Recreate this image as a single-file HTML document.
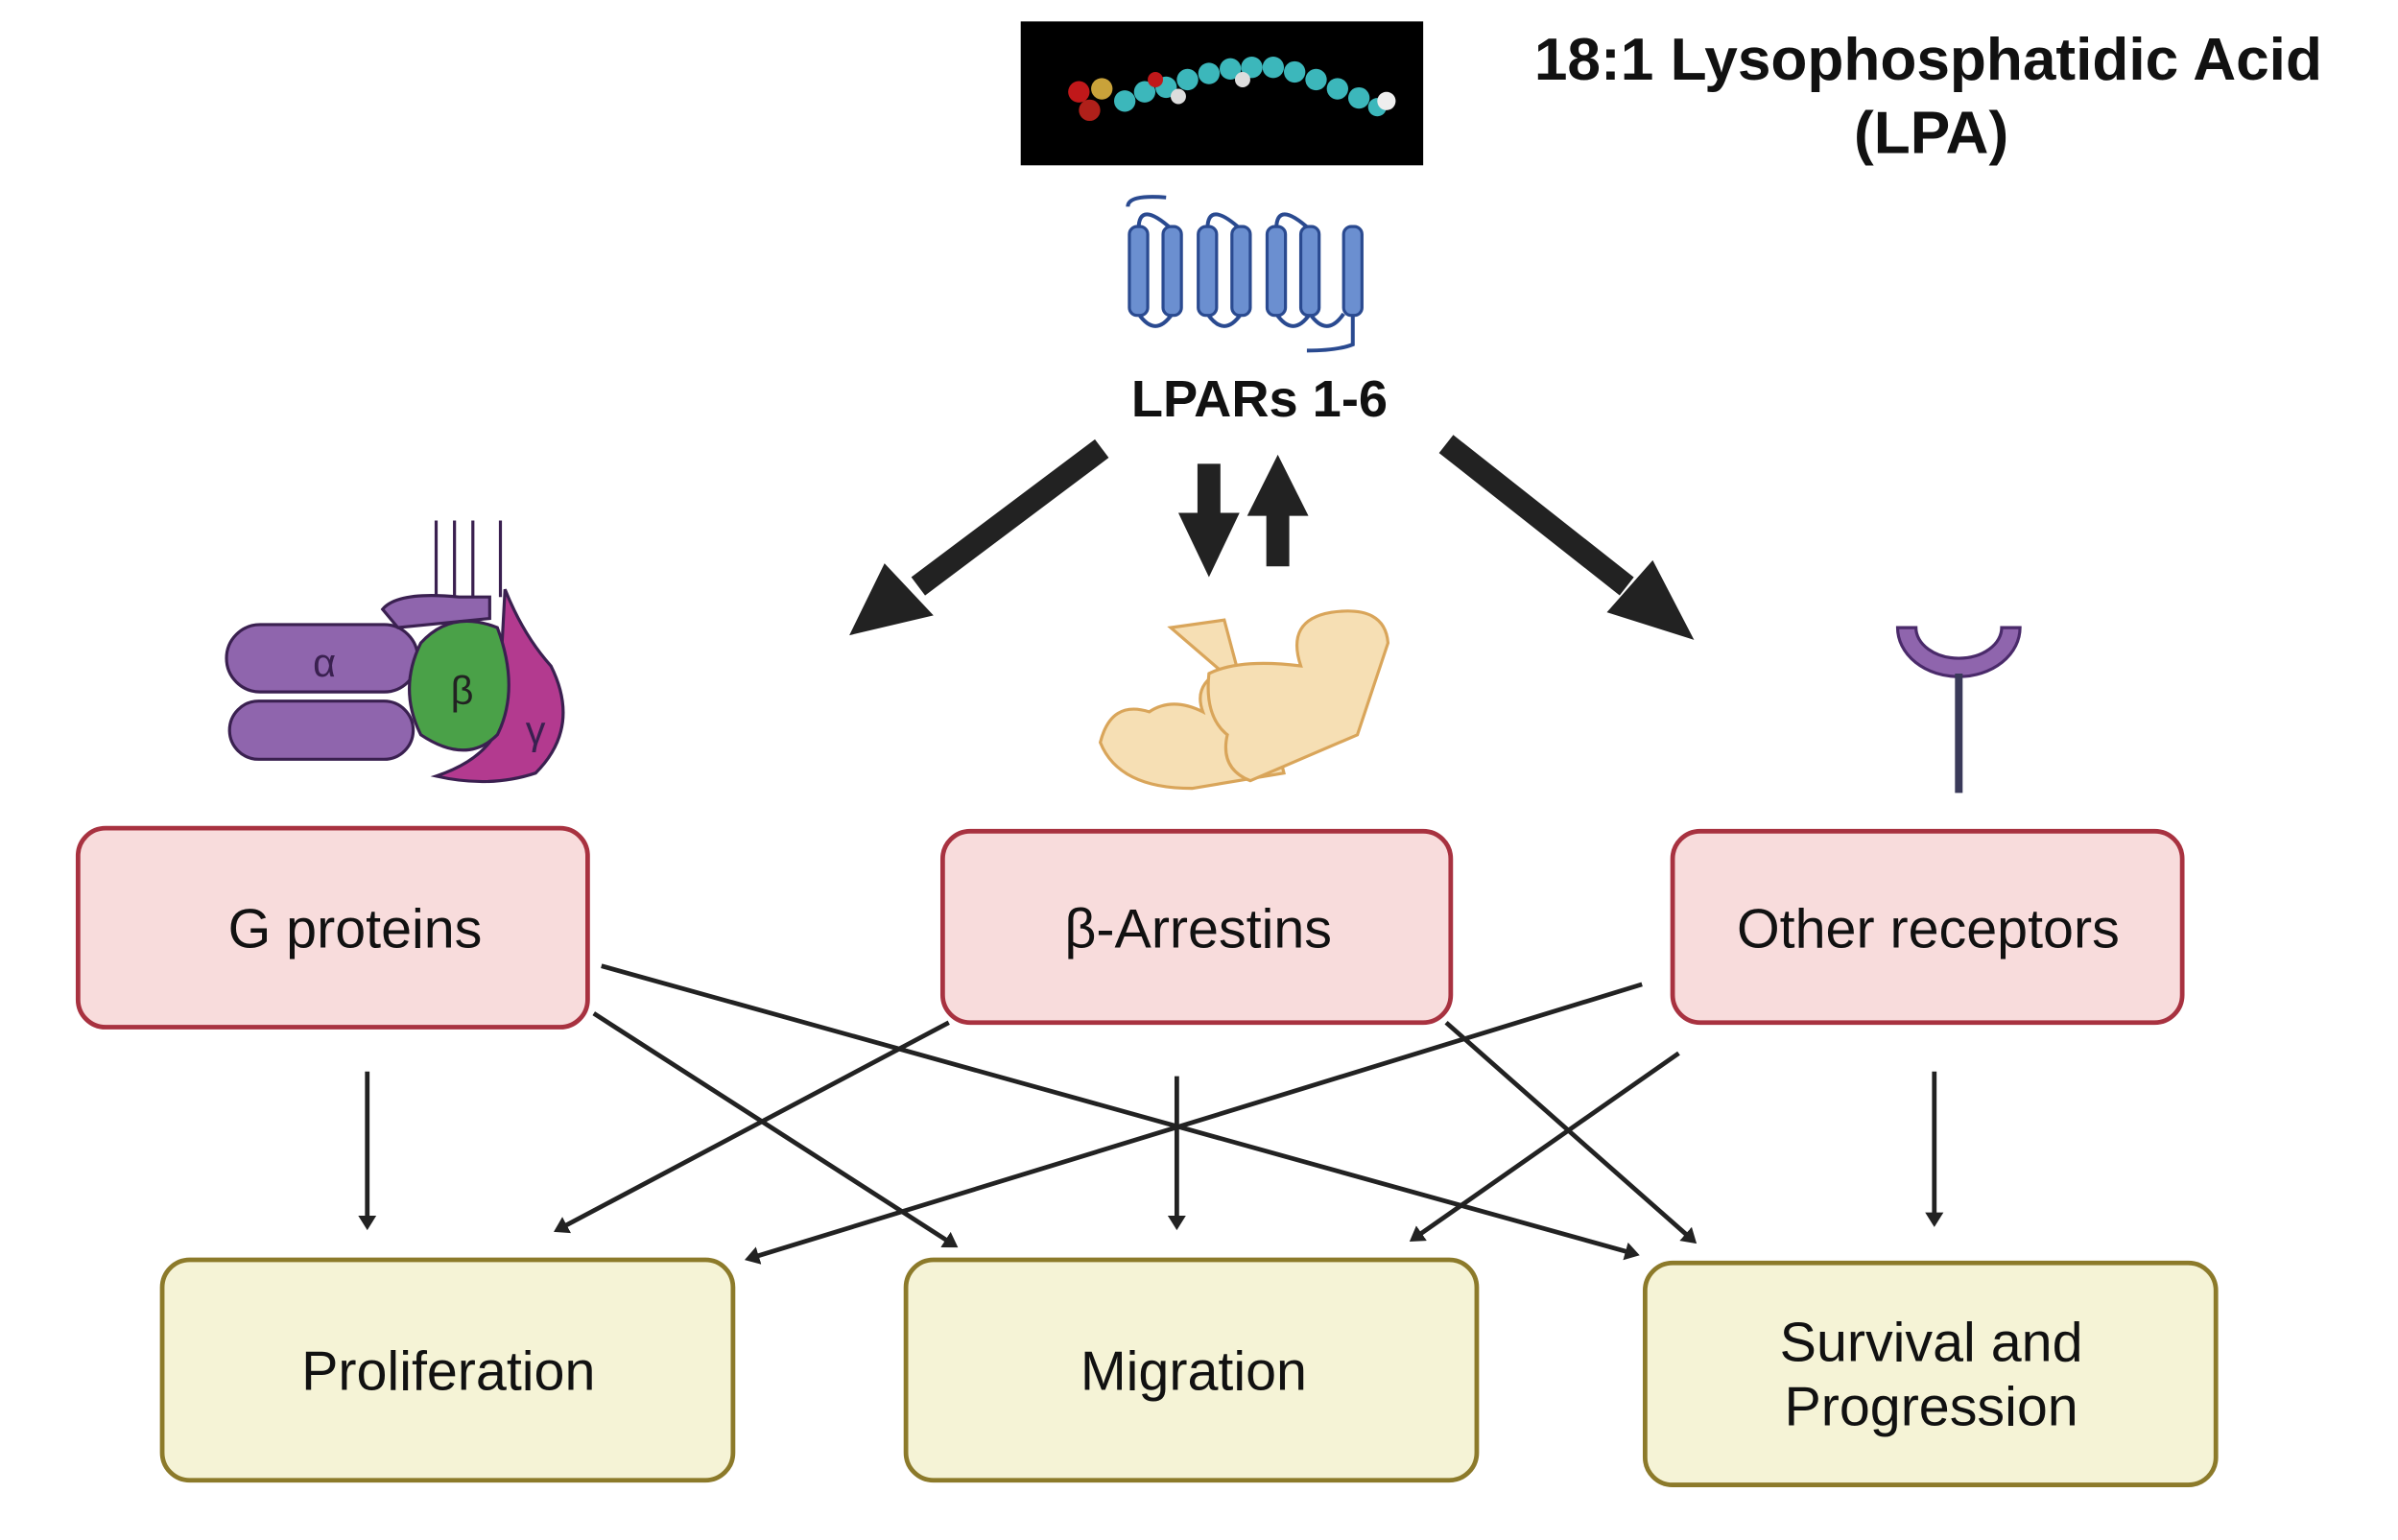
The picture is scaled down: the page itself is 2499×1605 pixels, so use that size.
<!DOCTYPE html>
<html><head><meta charset="utf-8"><style>
html,body{margin:0;padding:0;background:#fff;}
svg{display:block;}
text{font-family:"Liberation Sans",sans-serif;}
</style></head><body>
<svg width="2499" height="1605" viewBox="0 0 1567 1006" preserveAspectRatio="none" xmlns="http://www.w3.org/2000/svg">
<defs>
<marker id="bh" markerWidth="4" markerHeight="4" refX="2" refY="2" orient="auto" markerUnits="strokeWidth">
<path d="M0,0 L3.2,2 L0,4 z" fill="#222"/></marker>
</defs>
<!-- LPA molecule -->
<rect x="667" y="14" width="263" height="94" fill="#000"/>
<g>
<circle cx="705" cy="60" r="7" fill="#c0181a"/><circle cx="712" cy="72" r="7" fill="#b0201a"/><circle cx="720" cy="58" r="7" fill="#c9a23a"/>
<g fill="#3cb7bb">
<circle cx="735" cy="66" r="7"/><circle cx="748" cy="60" r="7"/><circle cx="762" cy="57" r="7"/><circle cx="776" cy="52" r="7"/><circle cx="790" cy="48" r="7"/><circle cx="804" cy="45" r="7"/><circle cx="818" cy="44" r="7"/><circle cx="832" cy="44" r="7"/><circle cx="846" cy="47" r="7"/><circle cx="860" cy="52" r="7"/><circle cx="874" cy="58" r="7"/><circle cx="888" cy="64" r="7"/><circle cx="900" cy="70" r="6"/></g>
<circle cx="770" cy="63" r="5" fill="#ddd"/><circle cx="812" cy="52" r="5" fill="#ddd"/><circle cx="906" cy="66" r="6" fill="#eee"/><circle cx="755" cy="52" r="5" fill="#c0181a"/>
</g>
<text x="1260" y="52" font-size="39" font-weight="bold" text-anchor="middle" fill="#111">18:1 Lysophosphatidic Acid</text>
<text x="1262" y="100" font-size="39" font-weight="bold" text-anchor="middle" fill="#111">(LPA)</text>
<!-- receptor -->
<g stroke="#2a4a90" stroke-width="2.5" fill="none">
<path d="M737,135 q0,-8 25,-6"/>
<path d="M744,150 q0,-20 22,0 M789,150 q0,-20 22,0 M834,150 q0,-20 22,0"/>
<path d="M744,205 q11,16 22,0 M789,205 q11,16 22,0 M834,205 q11,16 22,0 M856,205 q11,16 22,0"/>
<path d="M884,205 l0,20 q-10,4 -30,4"/>
</g>
<g fill="#6b8fd0" stroke="#2a4a90" stroke-width="2">
<rect x="738" y="148" width="12" height="58" rx="5"/><rect x="760" y="148" width="12" height="58" rx="5"/><rect x="783" y="148" width="12" height="58" rx="5"/><rect x="805" y="148" width="12" height="58" rx="5"/><rect x="828" y="148" width="12" height="58" rx="5"/><rect x="850" y="148" width="12" height="58" rx="5"/><rect x="878" y="148" width="12" height="58" rx="5"/>
</g>
<text x="823" y="272" font-size="34" font-weight="bold" text-anchor="middle" fill="#111">LPARs 1-6</text>
<!-- big arrows -->
<g stroke="#222" stroke-width="15" fill="none">
<line x1="720" y1="293" x2="600" y2="383"/>
<line x1="945" y1="290" x2="1063" y2="383"/>
<line x1="790" y1="303" x2="790" y2="340"/>
<line x1="835" y1="370" x2="835" y2="333"/>
</g>
<g fill="#222">
<polygon points="555,415 578,368 610,402"/>
<polygon points="1107,418 1050,400 1080,366"/>
<polygon points="770,335 810,335 790,377"/>
<polygon points="815,337 855,337 835,297"/>
</g>
<!-- G protein -->
<g stroke="#3a2050" stroke-width="2">
<path d="M285,390 v-50 M297,390 v-50 M309,390 v-50 M327,390 v-50" fill="none"/>
<rect x="148" y="408" width="125" height="44" rx="22" fill="#8f65ad"/>
<rect x="150" y="458" width="120" height="38" rx="19" fill="#8f65ad"/>
<path d="M250,398 q10,-12 50,-8 l20,0 v14 l-60,6z" fill="#8f65ad"/>
<path d="M330,385 q12,30 30,50 q20,40 -10,70 q-30,10 -65,2 q30,-10 40,-30z" fill="#b33a8f"/>
<path d="M275,420 q20,-22 50,-10 q15,40 0,70 q-20,20 -50,0 q-15,-30 0,-60z" fill="#4aa148"/>
</g>
<text x="212" y="442" font-size="26" fill="#3a2050" text-anchor="middle">α</text>
<text x="302" y="460" font-size="26" fill="#222" text-anchor="middle">β</text>
<text x="350" y="486" font-size="26" fill="#3a2050" text-anchor="middle">γ</text>
<!-- arrestin -->
<g stroke="#d9a55a" stroke-width="2" fill="#f6dfb4">
<path d="M765,410 l35,-5 l8,30 q-30,8 -22,30 q-20,-10 -35,0 q-25,-8 -32,20 q12,30 60,30 l60,-10 l-10,-40z"/>
<path d="M790,440 q20,-10 60,-5 q-10,-30 20,-35 q35,-5 37,20 l-20,60 l-70,30 q-20,-8 -15,-30 q-15,-12 -12,-40z"/>
</g>
<!-- other receptor -->
<path d="M1240,410 a40,32 0 0 0 80,0 l-12,0 a28,20 0 0 1 -56,0z" fill="#8f65ad" stroke="#4a2a6a" stroke-width="2"/>
<line x1="1280" y1="440" x2="1280" y2="518" stroke="#3a3a5a" stroke-width="5"/>
<!-- pink boxes -->
<g fill="#f8dcdc" stroke="#a83240" stroke-width="3">
<rect x="51" y="541" width="333" height="130" rx="18"/>
<rect x="616" y="543" width="332" height="125" rx="18"/>
<rect x="1093" y="543" width="333" height="125" rx="18"/>
</g>
<g font-size="36" fill="#111" text-anchor="middle">
<text x="232" y="619">G proteins</text>
<text x="783" y="619">β-Arrestins</text>
<text x="1260" y="619">Other receptors</text>
</g>
<!-- yellow boxes -->
<g fill="#f5f3d6" stroke="#8c7a2a" stroke-width="3">
<rect x="106" y="823" width="373" height="144" rx="18"/>
<rect x="592" y="823" width="373" height="144" rx="18"/>
<rect x="1075" y="825" width="373" height="145" rx="18"/>
</g>
<g font-size="36" fill="#111" text-anchor="middle">
<text x="293" y="908">Proliferation</text>
<text x="780" y="908">Migration</text>
<text x="1262" y="889">Survival and</text>
<text x="1262" y="931">Progression</text>
</g>
<!-- thin arrows -->
<g stroke="#222" stroke-width="3" fill="none" marker-end="url(#bh)">
<line x1="240" y1="700" x2="240" y2="800"/>
<line x1="388" y1="662" x2="623" y2="813"/>
<line x1="393" y1="631" x2="1068" y2="819"/>
<line x1="620" y1="668" x2="365" y2="803"/>
<line x1="769" y1="703" x2="769" y2="800"/>
<line x1="945" y1="668" x2="1106" y2="810"/>
<line x1="1073" y1="643" x2="490" y2="822"/>
<line x1="1097" y1="688" x2="924" y2="809"/>
<line x1="1264" y1="700" x2="1264" y2="798"/>
</g>
</svg>
</body></html>
